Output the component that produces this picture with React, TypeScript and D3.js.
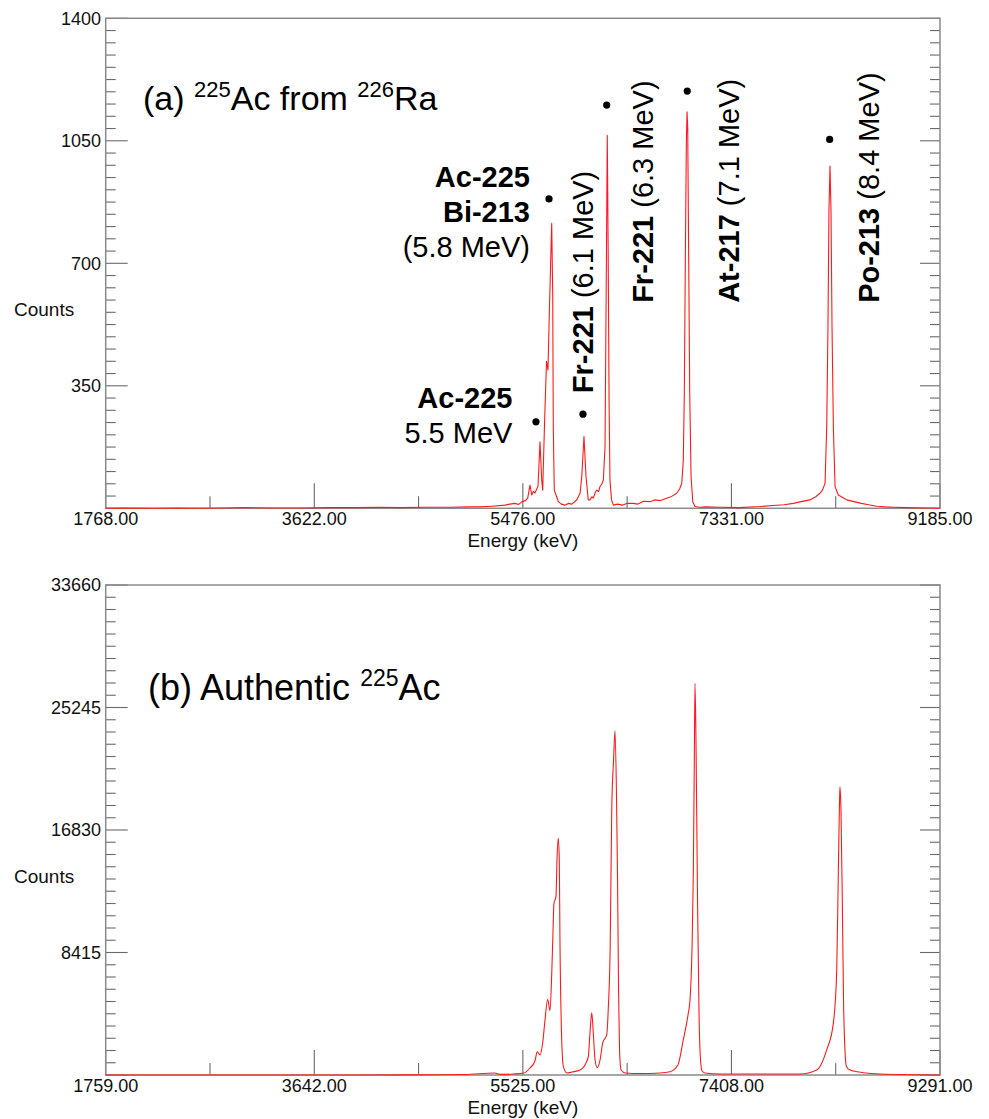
import React from "react";
import * as d3 from "d3";

const FONT = "'Liberation Sans', Arial, Helvetica, sans-serif";

// ---------- Panel (a): 225Ac from 226Ra ----------
const energyA = [1768, 2000, 2200, 2400, 2606, 2800, 3000, 3250, 3495, 3750, 4000, 4200, 4384, 4600, 4829, 5000, 5095, 5200, 5318, 5360, 5407, 5440, 5469, 5500, 5520, 5540, 5555, 5570, 5584, 5600, 5611, 5629, 5644, 5653, 5670, 5687, 5700, 5712, 5733, 5742, 5747, 5756, 5777, 5792, 5820, 5851, 5880, 5911, 5935, 5955, 5985, 6000, 6020, 6038, 6058, 6073, 6090, 6103, 6120, 6133, 6150, 6162, 6180, 6192, 6207, 6220, 6227, 6235, 6243, 6251, 6265, 6281, 6320, 6360, 6400, 6458, 6500, 6550, 6607, 6650, 6700, 6755, 6800, 6844, 6870, 6889, 6903, 6912, 6921, 6930, 6936, 6942, 6951, 6960, 6972, 6987, 7007, 7050, 7100, 7229, 7400, 7585, 7700, 7800, 7881, 7950, 8029, 8080, 8118, 8140, 8163, 8178, 8189, 8198, 8207, 8216, 8225, 8237, 8252, 8281, 8320, 8356, 8420, 8486, 8550, 8622, 8700, 8770, 8900, 9050, 9185];
const countsA = [0, 1, 0, 1, 0, 1, 2, 1, 1, 2, 2, 3, 2, 3, 3, 4, 4, 6, 9, 12, 14, 11, 19, 22, 30, 66, 38, 48, 44, 55, 62, 190, 81, 52, 250, 420, 395, 560, 814, 614, 232, 52, 33, 19, 12, 9, 14, 12, 18, 24, 43, 90, 205, 90, 24, 24, 33, 29, 45, 52, 48, 62, 70, 81, 176, 737, 1066, 737, 309, 81, 24, 9, 12, 9, 14, 14, 12, 20, 19, 24, 22, 29, 34, 43, 55, 71, 138, 329, 709, 1043, 1133, 1090, 709, 329, 90, 19, 5, 3, 4, 3, 2, 5, 8, 10, 14, 19, 24, 33, 43, 52, 71, 233, 519, 852, 978, 852, 519, 233, 62, 38, 31, 24, 19, 14, 10, 6, 4, 3, 2, 1, 0];
const xTicksA = [1768, 3622.25, 5476.5, 7330.75, 9185];
const xTickLabelsA = ["1768.00", "3622.00", "5476.00", "7331.00", "9185.00"];
const yTicksA = [0, 350, 700, 1050, 1400];
const yTickLabelsA = ["", "350", "700", "1050", "1400"];

// peak markers (energy keV, counts)
const dotEnergyA = [5593, 6011, 5709, 6222, 6938, 8204];
const dotCountA = [247, 269, 884, 1152, 1192, 1054];

// horizontal annotations (right-aligned; anchor energy, baseline counts)
const hLabelText = ["Ac-225", "Bi-213", "(5.8 MeV)", "Ac-225", "5.5 MeV"];
const hLabelBold = [true, true, false, true, false];
const hLabelEnergy = [5540, 5540, 5540, 5384, 5384];
const hLabelCount = [918, 819, 719, 287, 187];

// vertical annotations (rotated, reading upward)
const vLabelBold = ["Fr-221", "Fr-221", "At-217", "Po-213"];
const vLabelRest = [" (6.1 MeV)", " (6.3 MeV)", " (7.1 MeV)", " (8.4 MeV)"];
const vLabelEnergy = [6100, 6634, 7398, 8643];
const vLabelCount = [329, 587, 587, 587];

// ---------- Panel (b): Authentic 225Ac ----------
const energyB = [1759, 2500, 3500, 4500, 5000, 5274, 5320, 5436, 5535, 5589, 5634, 5655, 5680, 5707, 5725, 5749, 5770, 5786, 5795, 5806, 5824, 5833, 5845, 5854, 5860, 5876, 5891, 5923, 5969, 6041, 6095, 6116, 6131, 6147, 6161, 6177, 6197, 6222, 6246, 6282, 6297, 6313, 6328, 6344, 6357, 6371, 6380, 6389, 6398, 6412, 6450, 6583, 6763, 6853, 6925, 6973, 7016, 7034, 7052, 7064, 7073, 7079, 7088, 7102, 7115, 7129, 7143, 7170, 7305, 8027, 8178, 8268, 8328, 8358, 8373, 8384, 8388, 8397, 8409, 8420, 8433, 8447, 8479, 8599, 8750, 9291];
const countsB = [0, 0, 0, 10, 30, 137, 40, 70, 137, 480, 960, 1600, 1374, 2400, 3780, 5200, 4417, 7010, 9270, 11795, 12250, 14770, 16260, 14770, 9270, 2400, 570, 137, 206, 340, 820, 1260, 2885, 4280, 2885, 1030, 500, 1030, 2200, 2750, 4690, 8590, 18430, 21640, 23650, 18890, 13400, 5840, 1720, 340, 137, 100, 137, 227, 690, 2400, 4120, 5150, 8590, 13875, 21640, 26900, 23010, 12020, 4465, 1030, 275, 137, 70, 70, 340, 1720, 3550, 7010, 13875, 18890, 19800, 18200, 12020, 5150, 1720, 570, 340, 160, 70, 0];
const xTicksB = [1759, 3642, 5525, 7408, 9291];
const xTickLabelsB = ["1759.00", "3642.00", "5525.00", "7408.00", "9291.00"];
const yTicksB = [0, 8415, 16830, 25245, 33660];
const yTickLabelsB = ["", "8415", "16830", "25245", "33660"];

type Scales = { x: d3.ScaleLinear<number, number>; y: d3.ScaleLinear<number, number> };

type PanelProps = {
  top: number;
  bottom: number;
  energies: number[];
  counts: number[];
  xTicks: number[];
  xTickLabels: string[];
  yTicks: number[];
  yTickLabels: string[];
  smooth: boolean;
  overlay: (s: Scales) => React.ReactNode;
};

const LEFT = 105.7;
const RIGHT = 940;
const AXIS = "#8a8a8a";
const TICK = "#6a6a6a";

function Panel(p: PanelProps) {
  const x = d3.scaleLinear().domain([p.xTicks[0], p.xTicks[p.xTicks.length - 1]]).range([LEFT, RIGHT]);
  const yMax = p.yTicks[p.yTicks.length - 1];
  const y = d3.scaleLinear().domain([0, yMax]).range([p.bottom, p.top]);
  const line = d3
    .line<number>()
    .x((_, i) => x(p.energies[i]))
    .y((d) => y(d))
    .curve(p.smooth ? d3.curveMonotoneX : d3.curveLinear);
  const path = line(p.counts) || "";
  const nSub = (p.yTicks.length - 1) * 10;
  const yMinor = d3.range(0, nSub + 1).filter((i) => i % 10 !== 0).map((i) => (yMax * i) / nSub);
  const xMinor = p.xTicks.slice(0, -1).map((t, i) => (t + p.xTicks[i + 1]) / 2);

  return (
    <g>
      {p.yTicks.map((t, i) => (
        <g key={"ym" + i}>
          <line x1={LEFT} x2={LEFT + 22} y1={y(t)} y2={y(t)} stroke={TICK} strokeWidth={1.1} />
          <line x1={RIGHT} x2={RIGHT - 20} y1={y(t)} y2={y(t)} stroke={TICK} strokeWidth={1.1} />
        </g>
      ))}
      {yMinor.map((t, i) => (
        <g key={"yn" + i}>
          <line x1={LEFT} x2={LEFT + 10} y1={y(t)} y2={y(t)} stroke={TICK} strokeWidth={1.1} />
          <line x1={RIGHT} x2={RIGHT - 10} y1={y(t)} y2={y(t)} stroke={TICK} strokeWidth={1.1} />
        </g>
      ))}
      {p.xTicks.map((t, i) => (
        <line key={"xm" + i} x1={x(t)} x2={x(t)} y1={p.bottom} y2={p.bottom - 25} stroke={TICK} strokeWidth={1.1} />
      ))}
      {xMinor.map((t, i) => (
        <line key={"xn" + i} x1={x(t)} x2={x(t)} y1={p.bottom} y2={p.bottom - 12} stroke={TICK} strokeWidth={1.1} />
      ))}
      <rect x={LEFT} y={p.top} width={RIGHT - LEFT} height={p.bottom - p.top} fill="none" stroke={AXIS} strokeWidth={1.5} />
      {p.yTicks.map((t, i) => (
        <text key={"yl" + i} x={101} y={y(t)} dy="0.35em" textAnchor="end" fontSize={18} fontFamily={FONT} fill="#111">
          {p.yTickLabels[i]}
        </text>
      ))}
      {p.xTicks.map((t, i) => (
        <text key={"xl" + i} x={x(t)} y={p.bottom + 17} textAnchor="middle" fontSize={18} fontFamily={FONT} fill="#111">
          {p.xTickLabels[i]}
        </text>
      ))}
      <text x={14} y={p.top + 298} fontSize={19} fontFamily={FONT} fill="#111">
        Counts
      </text>
      <text x={(LEFT + RIGHT) / 2} y={p.bottom + 39} textAnchor="middle" fontSize={19} fontFamily={FONT} fill="#111">
        Energy (keV)
      </text>
      <path d={path} fill="none" stroke="#ff1a1a" strokeWidth={1.1} strokeLinejoin="round" />
      {p.overlay({ x, y })}
    </g>
  );
}

export default function App() {
  return (
    <svg width={989} height={1119} style={{ position: "absolute", left: 0, top: 0, background: "#fff" }}>
      <rect x={0} y={0} width={989} height={1119} fill="#fff" />
      <Panel
        top={18.3}
        bottom={508.3}
        energies={energyA}
        counts={countsA}
        xTicks={xTicksA}
        xTickLabels={xTickLabelsA}
        yTicks={yTicksA}
        yTickLabels={yTickLabelsA}
        smooth={false}
        overlay={({ x, y }) => (
          <g fontFamily={FONT} fill="#000">
            <text x={143} y={110} fontSize={34}>
              (a){" "}
              <tspan fontSize={22} dy={-13}>
                225
              </tspan>
              <tspan dy={13}>Ac from </tspan>
              <tspan fontSize={22} dy={-13}>
                226
              </tspan>
              <tspan dy={13}>Ra</tspan>
            </text>
            {dotEnergyA.map((e, i) => (
              <circle key={"d" + i} cx={x(e)} cy={y(dotCountA[i])} r={3.6} fill="#000" />
            ))}
            {hLabelText.map((t, i) => (
              <text
                key={"h" + i}
                x={x(hLabelEnergy[i])}
                y={y(hLabelCount[i])}
                textAnchor="end"
                fontSize={29}
                fontWeight={hLabelBold[i] ? "bold" : "normal"}
              >
                {t}
              </text>
            ))}
            {vLabelBold.map((t, i) => (
              <text
                key={"v" + i}
                transform={`translate(${x(vLabelEnergy[i])},${y(vLabelCount[i])}) rotate(-90)`}
                fontSize={29}
              >
                <tspan fontWeight="bold">{t}</tspan>
                <tspan>{vLabelRest[i]}</tspan>
              </text>
            ))}
          </g>
        )}
      />
      <Panel
        top={585}
        bottom={1075}
        energies={energyB}
        counts={countsB}
        xTicks={xTicksB}
        xTickLabels={xTickLabelsB}
        yTicks={yTicksB}
        yTickLabels={yTickLabelsB}
        smooth={true}
        overlay={() => (
          <g fontFamily={FONT} fill="#000">
            <text x={148} y={700} fontSize={36}>
              (b) Authentic{" "}
              <tspan fontSize={23} dy={-14}>
                225
              </tspan>
              <tspan dy={14}>Ac</tspan>
            </text>
          </g>
        )}
      />
    </svg>
  );
}
